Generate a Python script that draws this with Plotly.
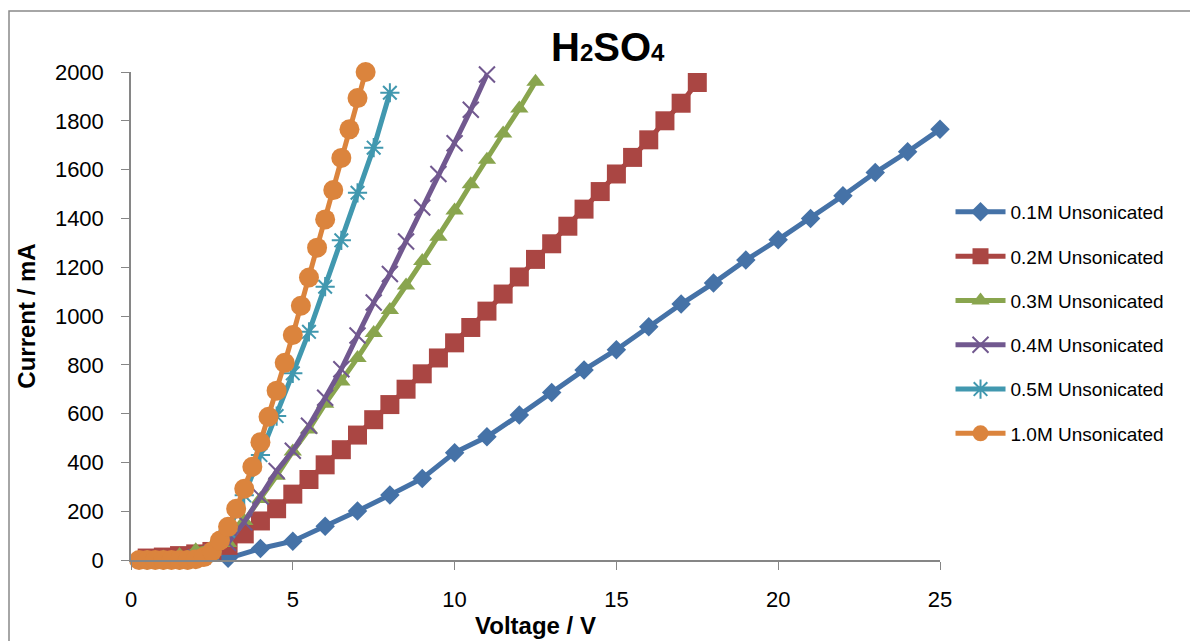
import plotly.graph_objects as go

# ---- data ----
x_01 = [3, 4, 5, 6, 7, 8, 9, 10, 11, 12, 13, 14, 15, 16, 17, 18, 19, 20, 21, 22, 23, 24, 25]
y_01 = [7, 47, 77, 138, 201, 266, 334, 440, 505, 594, 686, 779, 862, 956, 1049, 1135, 1229, 1313, 1400, 1493, 1588, 1673, 1765]

x_02 = [0.5, 1, 1.5, 2, 2.5, 3, 3.5, 4, 4.5, 5, 5.5, 6, 6.5, 7, 7.5, 8, 8.5, 9, 9.5, 10,
        10.5, 11, 11.5, 12, 12.5, 13, 13.5, 14, 14.5, 15, 15.5, 16, 16.5, 17, 17.5]
y_02 = [8, 12, 18, 25, 35, 60, 107, 160, 210, 270, 330, 390, 452, 512, 575, 637, 700, 763, 828, 890,
        953, 1020, 1090, 1160, 1232, 1296, 1368, 1438, 1510, 1582, 1650, 1722, 1800, 1872, 1957]

x_03 = [0.5, 1, 1.5, 2, 2.5, 3, 3.5, 4, 4.5, 5, 5.5, 6, 6.5, 7, 7.5, 8, 8.5, 9, 9.5, 10,
        10.5, 11, 11.5, 12, 12.5]
y_03 = [5, 10, 20, 40, 55, 70, 160, 250, 345, 445, 535, 640, 732, 828, 930, 1025, 1125, 1225, 1325, 1432,
        1540, 1640, 1748, 1850, 1960]

x_04 = [0.5, 1, 1.5, 2, 2.5, 3, 3.5, 4, 4.5, 5, 5.5, 6, 6.5, 7, 7.5, 8, 8.5, 9, 9.5, 10, 10.5, 11]
y_04 = [0, 0, 0, 10, 30, 70, 155, 260, 365, 448, 550, 665, 782, 920, 1055, 1172, 1305, 1445, 1582, 1708, 1845, 1990]

x_05 = [0.5, 1, 1.5, 2, 2.5, 3, 3.5, 4, 4.5, 5, 5.5, 6, 6.5, 7, 7.5, 8]
y_05 = [0, 0, 0, 5, 30, 120, 265, 430, 590, 765, 935, 1120, 1310, 1505, 1690, 1915]

x_10 = [0.25, 0.5, 0.75, 1, 1.25, 1.5, 1.75, 2, 2.25, 2.5, 2.75, 3, 3.25, 3.5, 3.75, 4, 4.25, 4.5,
        4.75, 5, 5.25, 5.5, 5.75, 6, 6.25, 6.5, 6.75, 7, 7.25]
y_10 = [0, 0, 0, 0, 0, 0, 0, 3, 12, 35, 80, 136, 210, 292, 382, 483, 587, 694,
        808, 922, 1042, 1158, 1280, 1396, 1516, 1648, 1765, 1893, 2000]

names = ["0.1M Unsonicated", "0.2M Unsonicated", "0.3M Unsonicated",
         "0.4M Unsonicated", "0.5M Unsonicated", "1.0M Unsonicated"]
x_ticks = [0, 5, 10, 15, 20, 25]
y_ticks = [0, 200, 400, 600, 800, 1000, 1200, 1400, 1600, 1800, 2000]

# ---- styles ----
series = [
    (x_01, y_01, "#4572A7", dict(symbol="diamond", size=15)),
    (x_02, y_02, "#AA4643", dict(symbol="square", size=19)),
    (x_03, y_03, "#89A54E", dict(symbol="triangle-up", size=16)),
    (x_04, y_04, "#71588F", dict(symbol="x-thin-open", size=16, line=dict(width=2, color="#71588F"))),
    (x_05, y_05, "#4198AF", dict(symbol="asterisk-open", size=16, line=dict(width=2, color="#4198AF"))),
    (x_10, y_10, "#DB843D", dict(symbol="circle", size=20)),
]

fig = go.Figure()
for i, (xs, ys, col, mk) in enumerate(series):
    m = dict(color=col, **mk)
    fig.add_trace(go.Scatter(
        x=xs, y=ys, name=names[i], mode="lines+markers",
        line=dict(color=col, width=5), marker=m,
        legendgroup=f"g{i}", cliponaxis=False,
    ))

# page body has an 8px margin, so the figure is 8px smaller than the window
W, H = 1190, 633
L, R, T, B = 123, 258, 64, 81
PW, PH = W - L - R, H - T - B

FONT = "Liberation Sans"
fig.update_layout(
    width=W, height=H,
    paper_bgcolor="white", plot_bgcolor="white",
    margin=dict(l=L, r=R, t=T, b=B, autoexpand=False),
    font=dict(family=FONT, color="black"),
    showlegend=True,
    legend=dict(
        x=1.013, y=0.752, xanchor="left", yanchor="top",
        font=dict(family=FONT, size=19, color="black"),
        tracegroupgap=16.6, itemwidth=50, traceorder="grouped",
        bgcolor="rgba(0,0,0,0)",
    ),
    annotations=[dict(
        text="H<span style='font-size:24px'>2</span>SO<span style='font-size:24px'>4</span>",
        xref="paper", yref="paper", x=0.5896, y=1.051,
        xanchor="center", yanchor="middle", showarrow=False,
        font=dict(family=FONT, size=40, color="black", weight="bold"),
    )],
    shapes=[dict(
        type="rect", xref="paper", yref="paper",
        x0=(1 - L) / PW, x1=(W + 20 - L) / PW,
        y0=-(B + 20) / PH, y1=1 + (T - 3) / PH,
        line=dict(color="#898989", width=1.5), fillcolor="rgba(0,0,0,0)", layer="below",
    )],
)
fig.update_xaxes(
    range=[0, 25], tickvals=x_ticks, showgrid=False, zeroline=False, automargin=False,
    showline=True, linecolor="#868686", linewidth=1.5,
    ticks="outside", ticklen=8, tickcolor="#868686", ticklabelstandoff=11,
    tickfont=dict(family=FONT, size=22, color="black"),
    title=dict(text="<b>Voltage / V</b>", font=dict(family=FONT, size=24, color="black"), standoff=6),
)
fig.update_yaxes(
    range=[0, 2000], tickvals=y_ticks, showgrid=False, zeroline=False, automargin=False,
    showline=True, linecolor="#868686", linewidth=1.5,
    ticks="outside", ticklen=8, tickcolor="#868686", ticklabelstandoff=13,
    tickfont=dict(family=FONT, size=22, color="black"),
    title=dict(text="<b>Current / mA</b>", font=dict(family=FONT, size=24, color="black"), standoff=12),
)

fig.write_html("out.html")
